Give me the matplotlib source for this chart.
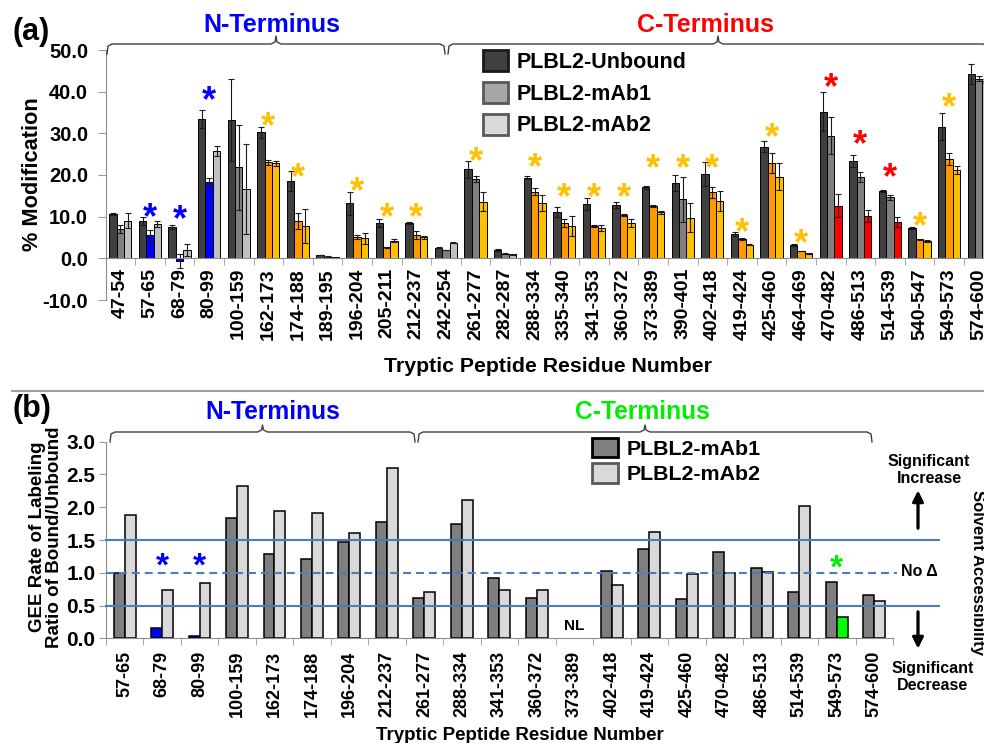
import numpy as np
import matplotlib
matplotlib.use('Agg')
import matplotlib.pyplot as plt
from matplotlib.lines import Line2D
from matplotlib.patches import Patch
from matplotlib.ticker import FormatStrFormatter

plt.rcParams['font.family'] = ['Liberation Sans', 'DejaVu Sans']
plt.rcParams['font.weight'] = 'bold'

# ---------------- panel (a) data ----------------
peps_a = ['47-54', '57-65', '68-79', '80-99', '100-159', '162-173', '174-188', '189-195',
          '196-204', '205-211', '212-237', '242-254', '261-277', '282-287', '288-334',
          '335-340', '341-353', '360-372', '373-389', '390-401', '402-418', '419-424',
          '425-460', '464-469', '470-482', '486-513', '514-539', '540-547', '549-573', '574-600']
unbound = [10.6, 9.0, 7.6, 33.4, 33.2, 30.2, 18.6, 0.8, 13.2, 8.4, 8.5, 2.5, 21.4, 2.0, 19.4,
           11.2, 13.0, 12.8, 17.0, 18.1, 20.2, 5.8, 26.8, 3.2, 35.2, 23.4, 16.2, 7.35, 31.6, 44.2]
unbound_err = [0.2, 1.0, 0.5, 2.2, 9.9, 1.4, 2.4, 0.1, 2.8, 1.0, 0.2, 0.1, 2.0, 0.2, 0.4,
               1.2, 1.5, 0.8, 0.4, 2.0, 2.8, 0.4, 1.4, 0.2, 4.6, 1.4, 0.2, 0.2, 3.2, 2.4]
mab1_a = [7.0, 5.6, -0.6, 18.2, 21.8, 23.1, 9.0, 0.4, 5.2, 2.6, 5.6, 2.0, 19.0, 1.1, 16.0,
          8.5, 7.8, 10.4, 12.6, 14.2, 15.8, 4.6, 22.9, 1.75, 29.4, 19.6, 14.6, 4.55, 23.8, 43.1]
mab1_err = [1.0, 1.2, 1.6, 1.2, 10.2, 0.6, 1.9, 0.1, 0.5, 0.2, 1.0, 0.1, 0.8, 0.1, 0.8,
            0.9, 0.3, 0.3, 0.3, 5.4, 1.4, 0.3, 2.4, 0.1, 4.4, 1.2, 0.6, 0.2, 1.4, 0.6]
mab2_a = [9.0, 8.2, 2.0, 25.8, 16.6, 22.8, 7.75, 0.3, 4.8, 4.2, 5.0, 3.7, 13.6, 1.0, 13.2,
          7.8, 7.2, 8.5, 11.0, 9.7, 13.8, 3.3, 19.6, 1.2, 12.6, 10.2, 8.8, 4.15, 21.2, 42.5]
mab2_err = [1.8, 0.7, 1.4, 1.2, 10.8, 0.6, 4.1, 0.1, 1.3, 0.4, 0.3, 0.1, 2.2, 0.1, 1.9,
            2.4, 0.7, 0.9, 0.4, 3.5, 2.4, 0.2, 3.2, 0.1, 2.8, 1.5, 1.2, 0.3, 1.0, 0.5]
# significance: '' none, 'n' mAb1 (blue), 'b' both (orange/gold), 'g' mAb2 gold, 'r' mAb2 red
sig_a = ['', 'n', 'n', 'n', '', 'b', 'b', '', 'b', 'b', 'b', '', 'g', '', 'b',
         'b', 'b', 'b', 'b', 'g', 'b', 'b', 'b', 'b', 'r', 'r', 'r', 'b', 'b', '']
star_a = [None, 12.4, 12.0, 40.6, None, 34.4, 22.2, None, 18.8, 12.4, 12.4, None, 26.0, None, 24.4,
          17.2, 17.2, 17.2, 24.2, 24.2, 24.2, 8.8, 31.6, 6.2, 43.6, 30.0, 22.0, 10.4, 39.0, None]

# ---------------- panel (b) data ----------------
peps_b = ['57-65', '68-79', '80-99', '100-159', '162-173', '174-188', '196-204', '212-237',
          '261-277', '288-334', '341-353', '360-372', '373-389', '402-418', '419-424',
          '425-460', '470-482', '486-513', '514-539', '549-573', '574-600']
ratio_mab1 = [1.00, 0.15, 0.04, 1.83, 1.28, 1.21, 1.47, 1.78, 0.61, 1.74, 0.92, 0.61, np.nan,
              1.03, 1.36, 0.60, 1.32, 1.07, 0.71, 0.86, 0.66]
ratio_mab2 = [1.88, 0.74, 0.84, 2.32, 1.95, 1.91, 1.60, 2.60, 0.71, 2.11, 0.74, 0.73, np.nan,
              0.82, 1.62, 0.98, 1.00, 1.01, 2.02, 0.33, 0.57]
sig_b = ['', 'n', 'n', '', '', '', '', '', '', '', '', '', '', '', '', '', '', '', '', 'c', '']
star_b = [None, 1.23, 1.23, None, None, None, None, None, None, None, None, None, None,
          None, None, None, None, None, None, 1.20, None]

W, H = 984, 743
fig = plt.figure(figsize=(W / 100, H / 100), dpi=100)


def fx(x):
    return x / W


def fy(y):
    return 1 - y / H


def brace(x0, x1, y, drop, rise):
    xm = (x0 + x1) / 2
    r = 5
    pts = [(x0, y + drop), (x0 + 1, y + 2), (x0 + r, y), (xm - r, y), (xm - 1, y - 2),
           (xm, y - rise), (xm + 1, y - 2), (xm + r, y), (x1 - r, y), (x1 - 1, y + 2), (x1, y + drop)]
    xs = [fx(p[0]) for p in pts]
    ys = [fy(p[1]) for p in pts]
    fig.add_artist(Line2D(xs, ys, color='#404040', lw=1.0))


# ================= panel (a) =================
ax = fig.add_axes([fx(105.5), fy(300), 888 / W, 250 / H])
ax.spines['bottom'].set_position(('data', 0))
x = np.arange(len(peps_a))
m1_cols = {'': '#808080', 'n': '#0000ff', 'b': '#ff9900', 'g': '#808080', 'r': '#808080'}
m2_cols = {'': '#c0c0c0', 'n': '#c0c0c0', 'b': '#ffc000', 'g': '#ffc000', 'r': '#ff0000'}
star_cols = {'n': '#0000ff', 'b': '#ffc000', 'g': '#ffc000', 'r': '#ff0000', 'c': '#00ee00'}
ekw = dict(ecolor='#1a1a1a', elinewidth=0.8, capsize=2.5, capthick=0.8)

bw = 0.25
ax.bar(x - bw, unbound, bw, color='#404040', edgecolor='black', lw=0.7, yerr=unbound_err, error_kw=ekw)
ax.bar(x, mab1_a, bw, color=[m1_cols[s] for s in sig_a], edgecolor='black', lw=0.7,
       yerr=mab1_err, error_kw=ekw)
ax.bar(x + bw, mab2_a, bw, color=[m2_cols[s] for s in sig_a], edgecolor='black', lw=0.7,
       yerr=mab2_err, error_kw=ekw)

for i, (s, sy) in enumerate(zip(sig_a, star_a)):
    if s:
        ax.annotate('*', (i, sy), xytext=(0, -9), textcoords='offset points', ha='center',
                    va='center', color=star_cols[s], fontsize=26, fontweight='bold')

ax.set_xlim(-0.5, len(peps_a) - 0.5)
ax.set_ylim(-10, 50)
ax.set_yticks(np.arange(-10, 51, 10))
ax.yaxis.set_major_formatter(FormatStrFormatter('%.1f'))
ax.tick_params(axis='y', labelsize=14.5, length=6, color='#999999', pad=6.5)
ax.set_xticks(x)
ax.set_xticklabels(peps_a, rotation=90, fontsize=14)
ax.set_xticks(np.arange(-0.5, len(peps_a)), minor=True)
ax.tick_params(axis='x', which='major', length=0, pad=7)
ax.tick_params(axis='x', which='minor', length=5, color='#999999')
for side in ['top', 'right']:
    ax.spines[side].set_visible(False)
for side in ['left', 'bottom']:
    ax.spines[side].set_color('#8c8c8c')

fig.text(fx(33), fy(174), '% Modification', rotation=90, ha='center', va='center', fontsize=15.7)
fig.text(fx(548), fy(366), 'Tryptic Peptide Residue Number', ha='center', va='center', fontsize=15.3)
fig.text(fx(31), fy(32), '(a)', ha='center', va='center', fontsize=22)
fig.text(fx(272), fy(25), 'N-Terminus', color='#0000ff', ha='center', va='center', fontsize=18)
fig.text(fx(705), fy(25), 'C-Terminus', color='#ff0000', ha='center', va='center', fontsize=18)
brace(107, 445, 44, 10, 8)
brace(448, 988, 44, 10, 8)

handles_a = [Patch(facecolor='#404040', edgecolor='#1a1a1a', lw=2),
             Patch(facecolor='#a6a6a6', edgecolor='#595959', lw=2),
             Patch(facecolor='#d9d9d9', edgecolor='#595959', lw=2)]
fig.legend(handles_a, ['PLBL2-Unbound', 'PLBL2-mAb1', 'PLBL2-mAb2'], loc='upper left',
           bbox_to_anchor=(fx(483), fy(50)), frameon=False, fontsize=15.5, handlelength=1.16,
           handleheight=1.12, handletextpad=0.42, labelspacing=0.42, borderpad=0, borderaxespad=0)

# separator between panels
fig.add_artist(Line2D([fx(12), fx(984)], [fy(391), fy(391)], color='#a0a0a0', lw=1.5))

# ================= panel (b) =================
bx = fig.add_axes([fx(105.8), fy(638.3), (893 - 105.8) / W, (638.3 - 441.7) / H])
xb = np.arange(len(peps_b))
bwb = 0.293
b1_cols = {'': '#7f7f7f', 'n': '#0000ff', 'c': '#7f7f7f'}
b2_cols = {'': '#d9d9d9', 'n': '#d9d9d9', 'c': '#00ff00'}
bx.bar(xb - bwb / 2, ratio_mab1, bwb, color=[b1_cols[s] for s in sig_b], edgecolor='black', lw=1.1)
bx.bar(xb + bwb / 2, ratio_mab2, bwb, color=[b2_cols[s] for s in sig_b], edgecolor='black', lw=1.1)

for i, (s, sy) in enumerate(zip(sig_b, star_b)):
    if s:
        bx.annotate('*', (i, sy), xytext=(0, -7), textcoords='offset points', ha='center',
                    va='center', color=star_cols[s], fontsize=24, fontweight='bold')
nl = peps_b.index('373-389')
bx.text(nl, 0.19, 'NL', ha='center', va='center', fontsize=11)

line_c = '#4a7ebb'
bx.axhline(1.5, xmin=0, xmax=(939 - 105.8) / (893 - 105.8), color=line_c, lw=1.5, clip_on=False, zorder=3)
bx.axhline(0.5, xmin=0, xmax=(939 - 105.8) / (893 - 105.8), color=line_c, lw=1.5, clip_on=False, zorder=3)
bx.axhline(1.0, xmin=0, xmax=(897 - 105.8) / (893 - 105.8), color=line_c, lw=1.5,
           ls=(0, (3.8, 2.4)), clip_on=False, zorder=3)

bx.set_xlim(-0.5, len(peps_b) - 0.5)
bx.set_ylim(0, 3)
bx.set_yticks(np.arange(0, 3.01, 0.5))
bx.yaxis.set_major_formatter(FormatStrFormatter('%.1f'))
bx.tick_params(axis='y', labelsize=15, length=5, color='#999999', pad=2.5)
bx.set_xticks(xb)
bx.set_xticklabels(peps_b, rotation=90, fontsize=13)
bx.set_xticks(np.arange(-0.5, len(peps_b)), minor=True)
bx.tick_params(axis='x', which='major', length=0, pad=9)
bx.tick_params(axis='x', which='minor', length=5, color='#999999')
for side in ['top', 'right']:
    bx.spines[side].set_visible(False)
for side in ['left', 'bottom']:
    bx.spines[side].set_color('#8c8c8c')

fig.text(fx(46), fy(537), 'GEE Rate of Labeling\nRatio of Bound/Unbound', rotation=90,
         ha='center', va='center', fontsize=13.5, linespacing=0.95)
fig.text(fx(520), fy(727), 'Tryptic Peptide Residue Number', ha='center', va='top', fontsize=13.5)
fig.text(fx(32), fy(409), '(b)', ha='center', va='center', fontsize=22)
fig.text(fx(273), fy(412), 'N-Terminus', color='#0000ff', ha='center', va='center', fontsize=17.7)
fig.text(fx(642), fy(412), 'C-Terminus', color='#00ee00', ha='center', va='center', fontsize=17.7)
brace(110, 415, 432, 10, 7)
brace(418, 872, 432, 10, 7)

handles_b = [Patch(facecolor='#7f7f7f', edgecolor='black', lw=2),
             Patch(facecolor='#d9d9d9', edgecolor='#595959', lw=2)]
fig.legend(handles_b, ['PLBL2-mAb1', 'PLBL2-mAb2'], loc='upper left',
           bbox_to_anchor=(fx(592), fy(438)), frameon=False, fontsize=15.4, handlelength=1.21,
           handleheight=1.02, handletextpad=0.42, labelspacing=0.19, borderpad=0, borderaxespad=0)

fig.text(fx(929), fy(470), 'Significant\nIncrease', ha='center', va='center', fontsize=11.5,
         linespacing=1.15)
fig.text(fx(933), fy(677), 'Significant\nDecrease', ha='center', va='center', fontsize=11.5,
         linespacing=1.15)
fig.text(fx(919), fy(571), 'No Δ', ha='center', va='center', fontsize=11.5)
fig.text(fx(977), fy(572), 'Solvent Accessibility', rotation=270, ha='center', va='center', fontsize=12)
fig.add_artist(plt.annotate('', xy=(fx(918), fy(488)), xytext=(fx(918), fy(531)), xycoords='figure fraction',
                            arrowprops=dict(arrowstyle='-|>', color='black', lw=2, mutation_scale=16)))
fig.add_artist(plt.annotate('', xy=(fx(918), fy(651)), xytext=(fx(918), fy(609)), xycoords='figure fraction',
                            arrowprops=dict(arrowstyle='-|>', color='black', lw=2, mutation_scale=16)))

fig.savefig('out.png', dpi=100)
